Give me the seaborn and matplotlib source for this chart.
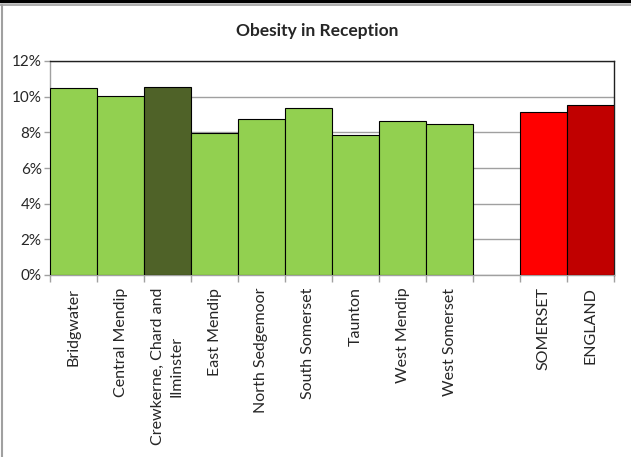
import matplotlib
matplotlib.use("Agg")
import matplotlib.pyplot as plt
from matplotlib.lines import Line2D
import seaborn as sns
import pandas as pd
import numpy as np

areas = ["Bridgwater", "Central Mendip", "Crewkerne, Chard and\nIlminster", "East Mendip",
         "North Sedgemoor", "South Somerset", "Taunton", "West Mendip", "West Somerset",
         " ", "SOMERSET", "ENGLAND"]
obesity = [10.47, 10.06, 10.56, 7.98, 8.75, 9.38, 7.85, 8.64, 8.47, np.nan, 9.12, 9.52]
colours = ["#92D050", "#92D050", "#4F6228", "#92D050", "#92D050", "#92D050", "#92D050",
           "#92D050", "#92D050", "#FFFFFF", "#FF0000", "#C00000"]

sns.set_theme(style="white")
plt.rcParams['font.family'] = ['Lato', 'DejaVu Sans']

df = pd.DataFrame({"area": areas, "value": obesity})
fig = plt.figure(figsize=(6.31, 4.57), dpi=100)
ax = fig.add_axes([50/631, 1-275/457, 564/631, 214/457])

sns.barplot(data=df, x="area", y="value", hue="area", order=areas, hue_order=areas,
            palette=dict(zip(areas, colours)), saturation=1, width=1.0,
            edgecolor="black", linewidth=0.8, legend=False, ax=ax, zorder=3)

ax.set_ylim(0, 12)
ax.set_xlim(-0.5, len(areas) - 0.5)
ax.set_yticks(range(0, 13, 2))
ax.set_yticklabels([f"{v}%" for v in range(0, 13, 2)], fontsize=11)
ax.yaxis.grid(True, color="#A0A0A0", linewidth=1, zorder=0)
ax.set_axisbelow(True)
ax.set_xlabel("")
ax.set_ylabel("")
ax.set_xticks(range(len(areas)))
ax.set_xticklabels(areas, rotation=90, fontsize=11.5, va="top", ha="center",
                   linespacing=1.45, multialignment="center")
ax.set_xticks(np.arange(-0.5, len(areas), 1.0), minor=True)
ax.tick_params(axis="x", which="major", length=0, pad=9)
ax.tick_params(axis="x", which="minor", length=5, color="#A0A0A0", width=1, bottom=True)
ax.tick_params(axis="y", which="major", length=4, color="#A0A0A0", width=1, left=True, pad=2)

for s in ["left", "bottom"]:
    ax.spines[s].set_color("#A0A0A0")
    ax.spines[s].set_linewidth(1)
for s in ["top", "right"]:
    ax.spines[s].set_color("#202020")
    ax.spines[s].set_linewidth(1)
    ax.spines[s].set_visible(True)

fig.text(317/631, 1-31/457, "Obesity in Reception", ha="center", va="center",
         fontsize=12.5, fontweight="bold")

# figure frame: thick black line on top, thin grey lines
fig.add_artist(Line2D([0, 1], [1-1/457, 1-1/457], color="black", linewidth=2.5, transform=fig.transFigure))
fig.add_artist(Line2D([0, 1], [1-4.5/457, 1-4.5/457], color="#A0A0A0", linewidth=1.2, transform=fig.transFigure))
fig.add_artist(Line2D([1.5/631, 1.5/631], [0, 1-4.5/457], color="#A0A0A0", linewidth=1.5, transform=fig.transFigure))

fig.savefig("out.png", dpi=100)
